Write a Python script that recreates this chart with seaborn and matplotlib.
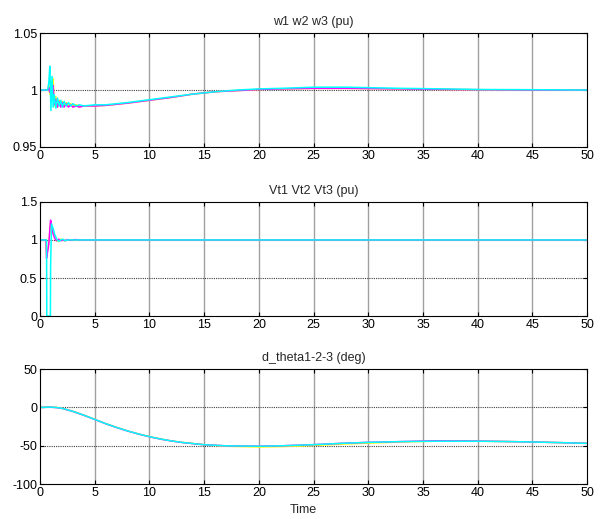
import numpy as np
import pandas as pd
import matplotlib
matplotlib.use("Agg")
import matplotlib.pyplot as plt
import seaborn as sns

# === Speed w1 w2 w3 (pu) ===
t_w = [0, 0.7, 0.8, 0.9, 1.0, 1.1, 1.2, 1.3, 1.45, 1.6, 1.75, 1.9, 2.05, 2.2, 2.4, 2.6,
       2.8, 3.0, 3.3, 3.6, 4.0, 5, 6, 7, 8, 10, 12, 14, 16, 18, 20, 22, 25, 28, 33, 37, 40, 45, 50]
w1 = [1.0, 1.0, 1.004, 0.996, 1.008, 0.990, 1.010, 0.986, 0.994, 0.985, 0.991, 0.986, 0.990, 0.986,
      0.989, 0.986, 0.988, 0.986, 0.987, 0.986, 0.986, 0.986, 0.9865, 0.9875, 0.9885, 0.991, 0.9935,
      0.9965, 0.9985, 0.9995, 1.0005, 1.001, 1.0015, 1.0015, 1.001, 1.0005, 1.0003, 1.0, 1.0]
w2 = [1.0, 1.0, 1.002, 0.998, 1.005, 0.994, 1.004, 0.987, 0.992, 0.985, 0.990, 0.985, 0.989, 0.985,
      0.988, 0.985, 0.987, 0.985, 0.986, 0.985, 0.986, 0.986, 0.9865, 0.9875, 0.9885, 0.991, 0.9935,
      0.9965, 0.9985, 0.9995, 1.0005, 1.001, 1.0015, 1.0015, 1.001, 1.0005, 1.0003, 1.0, 1.0]
w3 = [1.0, 1.0, 1.006, 1.021, 0.982, 1.012, 0.985, 0.996, 0.984, 0.993, 0.986, 0.991, 0.985, 0.990,
      0.986, 0.989, 0.986, 0.988, 0.986, 0.987, 0.986, 0.987, 0.987, 0.988, 0.989, 0.9915, 0.994,
      0.9965, 0.9985, 1.0, 1.001, 1.0015, 1.0025, 1.0025, 1.0015, 1.001, 1.0005, 1.0003, 1.0]

# === Terminal voltage Vt1 Vt2 Vt3 (pu) ===
t_v = [0, 0, 0.55, 0.6, 0.62, 0.8, 0.95, 0.97, 1.05, 1.2, 1.35, 1.5, 1.7, 1.9, 2.1, 2.3,
       2.5, 2.8, 3.2, 3.6, 50]
v1 = [1.0, 1.0, 1.0, 0.80, 0.82, 0.95, 1.20, 1.22, 1.18, 1.10, 1.04, 0.99, 0.98, 1.01, 1.0,
      0.99, 1.0, 1.0, 1.0, 1.0, 1.0]
v2 = [1.0, 1.0, 1.0, 0.76, 0.78, 0.94, 1.24, 1.26, 1.20, 1.08, 1.02, 0.99, 1.01, 0.99, 1.0,
      0.99, 1.005, 0.995, 1.005, 1.0, 1.0]
v3 = [0.0, 1.0, 1.0, 1.0, 0.0, 0.0, 0.0, 0.65, 1.21, 1.15, 1.07, 1.02, 0.98, 1.0, 1.01,
      0.99, 1.0, 1.0, 1.0, 1.0, 1.0]

# === Rotor angle d_theta1-2-3 (deg) ===
t_d = [0, 1, 1.5, 2, 3, 4, 5, 6, 7, 8, 9, 10, 11, 12, 13, 14, 15, 17, 20, 22, 25, 28,
       30, 33, 36, 40, 43, 45, 48, 50]
d1 = [0, 0.5, 0, -1, -5, -10, -15.5, -21, -26, -30.5, -34.5, -38, -41, -43.5, -45.5, -47,
      -48.5, -50.5, -51.5, -51, -49.5, -47.5, -46.5, -45, -44, -44, -44.5, -45, -46, -46.5]
d2 = [0, 0.3, -0.2, -1.2, -5.2, -10.2, -15.7, -21.2, -26.2, -30.7, -34.7, -38.2, -41.2, -43.7,
      -45.7, -47.2, -48.6, -50, -50.5, -50, -48.5, -46.5, -45.5, -44.5, -43.5, -43.8, -44.5,
      -45, -46, -46.8]
d3 = [0, 0.4, -0.1, -1.1, -5.1, -10.1, -15.6, -21.1, -26.1, -30.6, -34.6, -38.1, -41.1, -43.6,
      -45.6, -47.1, -48.6, -50, -50.5, -50, -48.5, -46.5, -45.5, -44.5, -44, -44, -44.5,
      -45, -46, -46.8]

titles = ["w1 w2 w3 (pu)", "Vt1 Vt2 Vt3 (pu)", "d_theta1-2-3 (deg)"]
yticks = [[0.95, 1, 1.05], [0, 0.5, 1, 1.5], [-100, -50, 0, 50]]
yticklabels = [["0.95", "1", "1.05"], ["0", "0.5", "1", "1.5"], ["-100", "-50", "0", "50"]]
xticks = [0, 5, 10, 15, 20, 25, 30, 35, 40, 45, 50]
colors = ["#ffff00", "#ff00ff", "#00ffff"]

panels = [
    (t_w, [w1, w2, w3]),
    (t_v, [v1, v2, v3]),
    (t_d, [d1, d2, d3]),
]

sns.set_style("white")
plt.rcParams["font.family"] = ["Liberation Sans", "DejaVu Sans"]

fig = plt.figure(figsize=(6.06, 5.19), dpi=100)
boxes = [
    [0.066, 0.717, 0.903, 0.219],
    [0.066, 0.391, 0.903, 0.220],
    [0.066, 0.067, 0.903, 0.222],
]

for k, (t, series) in enumerate(panels):
    ax = fig.add_axes(boxes[k])
    for s, c in zip(series, colors):
        sns.lineplot(x=t, y=s, color=c, lw=1.1, ax=ax, sort=False, estimator=None)
    ax.set_xlim(0, 50)
    ax.set_ylim(yticks[k][0], yticks[k][-1])
    ax.set_xticks(xticks)
    ax.set_xticklabels([str(x) for x in xticks], fontsize=9)
    ax.set_yticks(yticks[k])
    ax.set_yticklabels(yticklabels[k], fontsize=9)
    for x in xticks[1:-1]:
        ax.axvline(x, color="#a0a0a0", lw=1.0, zorder=0)
    for y in yticks[k][1:-1]:
        ax.axhline(y, color="#404040", lw=0.8, ls=(0, (1, 1)), zorder=0)
    ax.tick_params(direction="in", length=3, width=0.8, top=True, right=True,
                   bottom=True, left=True, pad=2, colors="black")
    for sp in ax.spines.values():
        sp.set_color("black")
        sp.set_linewidth(0.8)
    ax.set_title(titles[k], fontsize=9, pad=6)
    ax.set_xlabel("")
    ax.set_ylabel("")

fig.text(0.5, 0.005, "Time", ha="center", va="bottom", fontsize=9)

plt.savefig("out.png", dpi=100)
plt.close()
